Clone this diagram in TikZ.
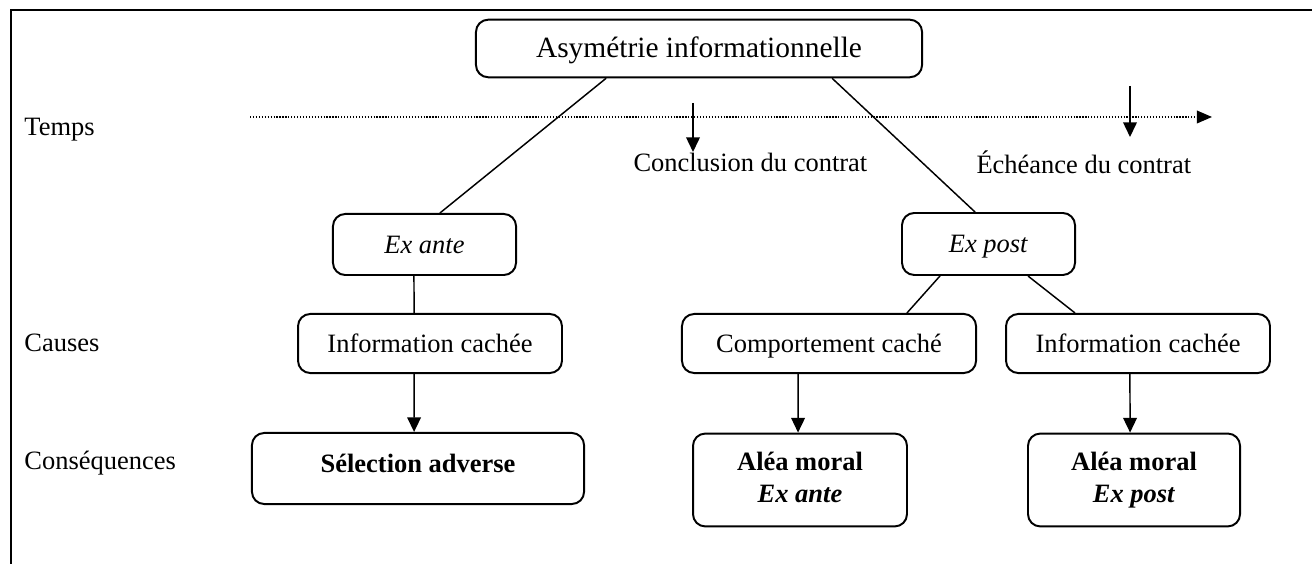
\documentclass[tikz,border=0pt]{standalone}
\usepackage{fontspec}
\setmainfont{Liberation Serif}
\usetikzlibrary{arrows.meta}

\begin{document}
\begin{tikzpicture}[
    x=0.408pt, y=-0.408pt,
    font=\fontsize{10.8}{13}\selectfont,
    panel/.style={
        draw, line width=0.8pt, rounded corners=5pt,
        inner sep=0pt, align=center
    },
    single/.style={text height=9pt, text depth=2pt},
    lbl/.style={anchor=west, inner sep=0pt},
    link/.style={line width=0.6pt},
    arr/.style={line width=0.6pt, -{Triangle[length=6pt, width=5.6pt]}},
    timeline/.style={line width=0.6pt, dash pattern=on 0.5pt off 0.7pt,
        -{Triangle[length=6.2pt, width=5.2pt]}}
]
\useasboundingbox (0,0) rectangle (1312,564);

% Frame
\draw[line width=1pt] (11,564) -- (11,10) -- (1312,10);

% Row labels
\node[lbl] (temps) at (24,130) {Temps};
\node[lbl] (causes) at (24,343) {Causes};
\node[lbl] (csq) at (24,463) {Conséquences};

% Boxes
\node[panel, single, font=\fontsize{12}{14}\selectfont,
    minimum width=182pt, minimum height=23.5pt] (asym) at (699,48.5)
    {Asymétrie informationnelle};
\node[panel, single, minimum width=74.7pt, minimum height=24.9pt] (exante) at (424.5,244.5)
    {\textit{Ex ante}};
\node[panel, single, minimum width=70.6pt, minimum height=25.3pt] (expost) at (988.5,244)
    {\textit{Ex post}};
\node[panel, single, minimum width=107.7pt, minimum height=24.1pt] (infoL) at (430,343.5)
    {Information cachée};
\node[panel, single, minimum width=120pt, minimum height=24.1pt] (comport) at (829,343.5)
    {Comportement caché};
\node[panel, single, minimum width=107.7pt, minimum height=24.1pt] (infoR) at (1138,343.5)
    {Information cachée};
\node[panel, text height=9pt, text depth=6pt, minimum width=135.5pt, minimum height=29pt] (selec) at (418,468.5)
    {\textbf{Sélection adverse}};
\node[panel, minimum width=87.3pt, minimum height=37.9pt] (aleaA) at (800,480)
    {\textbf{Aléa moral}\\\textbf{\textit{Ex ante}\vphantom{p}}};
\node[panel, minimum width=86.5pt, minimum height=37.9pt] (aleaB) at (1134,480)
    {\textbf{Aléa moral}\\\textbf{\textit{Ex post}}};

% Time axis
\coordinate (t0) at (250,117);
\coordinate (t1) at (1212,117);
\draw[timeline] (t0) -- (t1);

\coordinate (conclTop) at (693,103);
\coordinate (conclTip) at (693,152);
\coordinate (echTop) at (1130,86);
\coordinate (echTip) at (1130,137);
\draw[arr] (conclTop) -- (conclTip);
\draw[arr] (echTop) -- (echTip);
\node[lbl] (concl) at (633,162) {Conclusion du contrat};
\node[lbl] (ech) at (976,162) {Échéance du contrat};

% Tree lines
\draw[link] ([xshift=-37.9pt]asym.south) -- ([xshift=6.3pt]exante.north);
\draw[link] ([xshift=54.3pt]asym.south) -- ([xshift=-5.5pt]expost.north);
\draw[link] ([xshift=-4.3pt]exante.south) -- ([xshift=-6.5pt]infoL.north);
\draw[link] ([xshift=-19.8pt]expost.south) -- ([xshift=31.8pt]comport.north);
\draw[link] ([xshift=16.1pt]expost.south) -- ([xshift=-25.7pt]infoR.north);

% Arrows to consequences
\draw[arr] ([xshift=-6.5pt]infoL.south) -- ([xshift=-1.6pt]selec.north);
\draw[arr] ([xshift=-12.6pt]comport.south) -- ([xshift=-0.8pt]aleaA.north);
\draw[arr] ([xshift=-3.3pt]infoR.south) -- ([xshift=-1.6pt]aleaB.north);

\end{tikzpicture}
\end{document}
